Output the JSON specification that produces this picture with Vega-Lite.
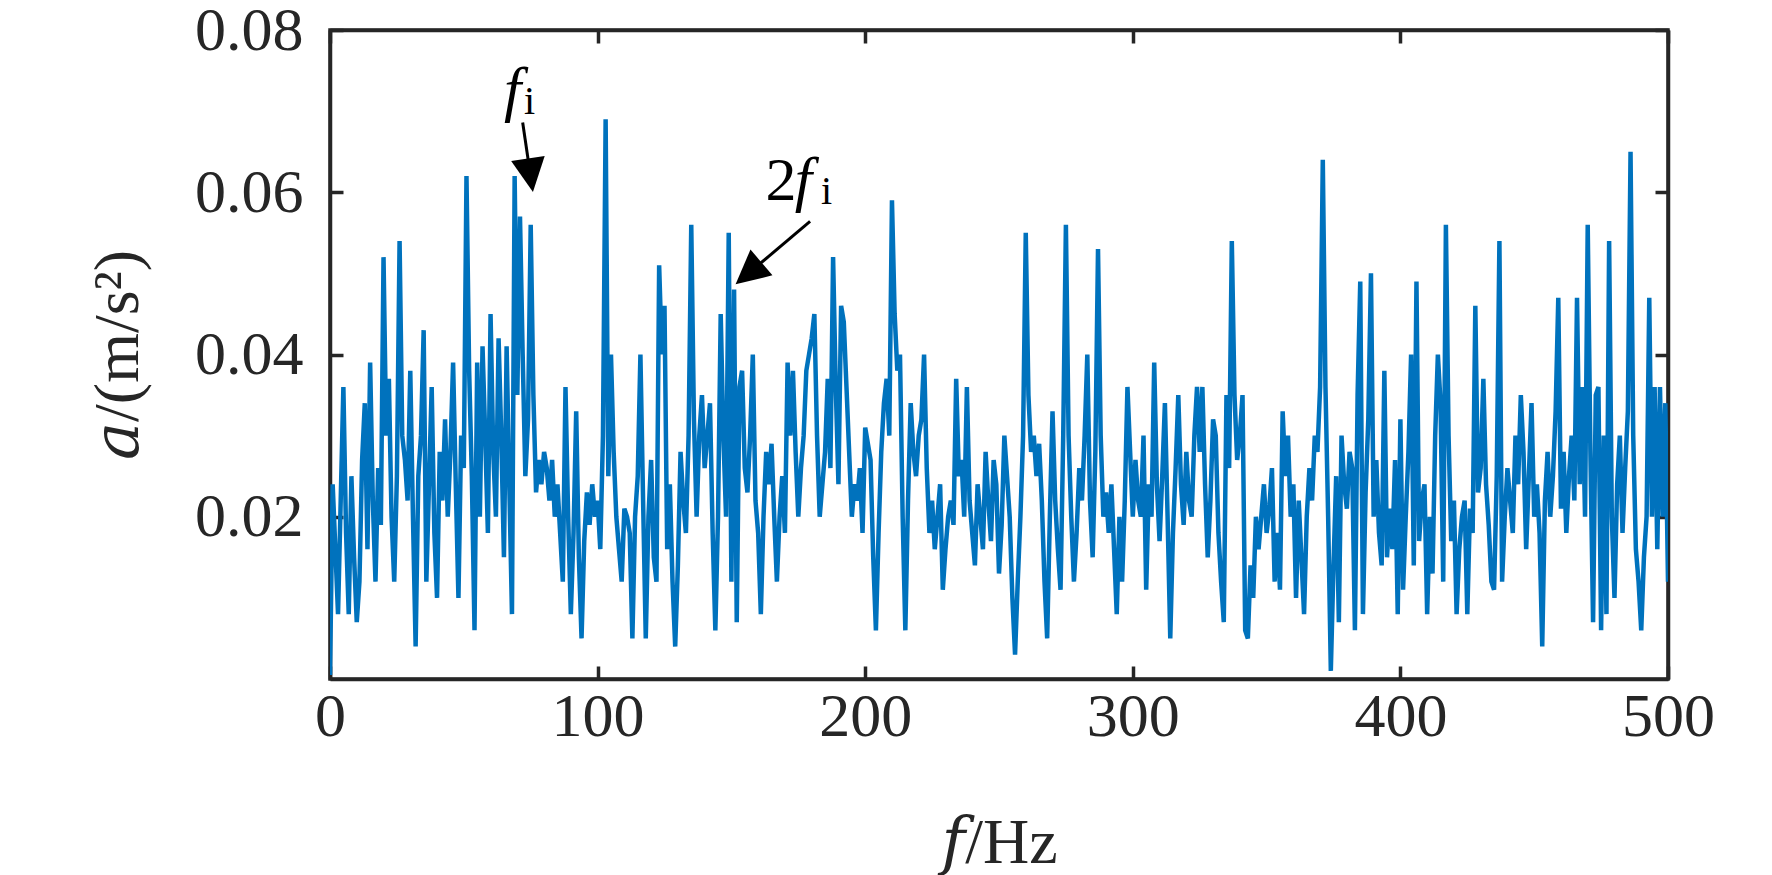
{
  "$schema": "https://vega.github.io/schema/vega-lite/v6.json",
  "description": "Acceleration spectrum with f_i and 2f_i markers",
  "autosize": {"type": "none"},
  "padding": {"left": 330, "top": 30, "right": 104, "bottom": 196},
  "width": 1338,
  "height": 649,
  "background": "white",
  "datasets": {
    "spectrum": [
      {"f":0,"a":0.0005},{"f":1,"a":0.024},{"f":2,"a":0.016},{"f":3,"a":0.008},{"f":4,"a":0.022},{"f":5,"a":0.036},{"f":6,"a":0.018},{"f":7,"a":0.008},{"f":8,"a":0.025},{"f":9,"a":0.015},
      {"f":10,"a":0.007},{"f":11,"a":0.012},{"f":12,"a":0.027},{"f":13,"a":0.034},{"f":14,"a":0.016},{"f":15,"a":0.039},{"f":16,"a":0.022},{"f":17,"a":0.012},{"f":18,"a":0.026},{"f":19,"a":0.019},
      {"f":20,"a":0.052},{"f":21,"a":0.030},{"f":22,"a":0.037},{"f":23,"a":0.020},{"f":24,"a":0.012},{"f":25,"a":0.025},{"f":26,"a":0.054},{"f":27,"a":0.030},{"f":28,"a":0.027},{"f":29,"a":0.022},
      {"f":30,"a":0.038},{"f":31,"a":0.020},{"f":32,"a":0.004},{"f":33,"a":0.025},{"f":34,"a":0.030},{"f":35,"a":0.043},{"f":36,"a":0.012},{"f":37,"a":0.024},{"f":38,"a":0.036},{"f":39,"a":0.018},
      {"f":40,"a":0.010},{"f":41,"a":0.028},{"f":42,"a":0.022},{"f":43,"a":0.032},{"f":44,"a":0.020},{"f":45,"a":0.028},{"f":46,"a":0.039},{"f":47,"a":0.024},{"f":48,"a":0.010},{"f":49,"a":0.030},
      {"f":50,"a":0.026},{"f":51,"a":0.062},{"f":52,"a":0.038},{"f":53,"a":0.025},{"f":54,"a":0.006},{"f":55,"a":0.039},{"f":56,"a":0.020},{"f":57,"a":0.041},{"f":58,"a":0.030},{"f":59,"a":0.018},
      {"f":60,"a":0.045},{"f":61,"a":0.028},{"f":62,"a":0.020},{"f":63,"a":0.042},{"f":64,"a":0.030},{"f":65,"a":0.015},{"f":66,"a":0.041},{"f":67,"a":0.024},{"f":68,"a":0.008},{"f":69,"a":0.062},
      {"f":70,"a":0.035},{"f":71,"a":0.057},{"f":72,"a":0.040},{"f":73,"a":0.025},{"f":74,"a":0.032},{"f":75,"a":0.056},{"f":76,"a":0.035},{"f":77,"a":0.023},{"f":78,"a":0.027},{"f":79,"a":0.024},
      {"f":80,"a":0.028},{"f":81,"a":0.026},{"f":82,"a":0.022},{"f":83,"a":0.027},{"f":84,"a":0.020},{"f":85,"a":0.024},{"f":86,"a":0.018},{"f":87,"a":0.012},{"f":88,"a":0.036},{"f":89,"a":0.020},
      {"f":90,"a":0.008},{"f":91,"a":0.018},{"f":92,"a":0.033},{"f":93,"a":0.015},{"f":94,"a":0.005},{"f":95,"a":0.017},{"f":96,"a":0.023},{"f":97,"a":0.019},{"f":98,"a":0.024},{"f":99,"a":0.020},
      {"f":100,"a":0.022},{"f":101,"a":0.016},{"f":102,"a":0.030},{"f":103,"a":0.069},{"f":104,"a":0.025},{"f":105,"a":0.040},{"f":106,"a":0.028},{"f":107,"a":0.020},{"f":108,"a":0.016},{"f":109,"a":0.012},
      {"f":110,"a":0.021},{"f":111,"a":0.020},{"f":112,"a":0.018},{"f":113,"a":0.005},{"f":114,"a":0.020},{"f":115,"a":0.025},{"f":116,"a":0.040},{"f":117,"a":0.022},{"f":118,"a":0.005},{"f":119,"a":0.020},
      {"f":120,"a":0.027},{"f":121,"a":0.015},{"f":122,"a":0.012},{"f":123,"a":0.051},{"f":124,"a":0.040},{"f":125,"a":0.046},{"f":126,"a":0.016},{"f":127,"a":0.024},{"f":128,"a":0.012},{"f":129,"a":0.004},
      {"f":130,"a":0.014},{"f":131,"a":0.028},{"f":132,"a":0.022},{"f":133,"a":0.018},{"f":134,"a":0.030},{"f":135,"a":0.056},{"f":136,"a":0.032},{"f":137,"a":0.020},{"f":138,"a":0.030},{"f":139,"a":0.035},
      {"f":140,"a":0.026},{"f":141,"a":0.030},{"f":142,"a":0.034},{"f":143,"a":0.018},{"f":144,"a":0.006},{"f":145,"a":0.020},{"f":146,"a":0.045},{"f":147,"a":0.030},{"f":148,"a":0.020},{"f":149,"a":0.055},
      {"f":150,"a":0.012},{"f":151,"a":0.048},{"f":152,"a":0.007},{"f":153,"a":0.036},{"f":154,"a":0.038},{"f":155,"a":0.026},{"f":156,"a":0.023},{"f":157,"a":0.030},{"f":158,"a":0.040},{"f":159,"a":0.022},
      {"f":160,"a":0.018},{"f":161,"a":0.008},{"f":162,"a":0.020},{"f":163,"a":0.028},{"f":164,"a":0.024},{"f":165,"a":0.029},{"f":166,"a":0.020},{"f":167,"a":0.012},{"f":168,"a":0.020},{"f":169,"a":0.025},
      {"f":170,"a":0.018},{"f":171,"a":0.039},{"f":172,"a":0.030},{"f":173,"a":0.038},{"f":174,"a":0.028},{"f":175,"a":0.020},{"f":176,"a":0.026},{"f":177,"a":0.030},{"f":178,"a":0.038},{"f":179,"a":0.040},
      {"f":180,"a":0.042},{"f":181,"a":0.045},{"f":182,"a":0.030},{"f":183,"a":0.020},{"f":184,"a":0.024},{"f":185,"a":0.028},{"f":186,"a":0.037},{"f":187,"a":0.026},{"f":188,"a":0.052},{"f":189,"a":0.036},
      {"f":190,"a":0.024},{"f":191,"a":0.046},{"f":192,"a":0.044},{"f":193,"a":0.036},{"f":194,"a":0.028},{"f":195,"a":0.020},{"f":196,"a":0.024},{"f":197,"a":0.022},{"f":198,"a":0.026},{"f":199,"a":0.018},
      {"f":200,"a":0.031},{"f":201,"a":0.029},{"f":202,"a":0.027},{"f":203,"a":0.015},{"f":204,"a":0.006},{"f":205,"a":0.018},{"f":206,"a":0.028},{"f":207,"a":0.034},{"f":208,"a":0.037},{"f":209,"a":0.030},
      {"f":210,"a":0.059},{"f":211,"a":0.045},{"f":212,"a":0.038},{"f":213,"a":0.040},{"f":214,"a":0.020},{"f":215,"a":0.006},{"f":216,"a":0.022},{"f":217,"a":0.034},{"f":218,"a":0.028},{"f":219,"a":0.025},
      {"f":220,"a":0.030},{"f":221,"a":0.032},{"f":222,"a":0.040},{"f":223,"a":0.026},{"f":224,"a":0.018},{"f":225,"a":0.022},{"f":226,"a":0.016},{"f":227,"a":0.020},{"f":228,"a":0.024},{"f":229,"a":0.011},
      {"f":230,"a":0.016},{"f":231,"a":0.020},{"f":232,"a":0.022},{"f":233,"a":0.019},{"f":234,"a":0.037},{"f":235,"a":0.025},{"f":236,"a":0.027},{"f":237,"a":0.020},{"f":238,"a":0.036},{"f":239,"a":0.022},
      {"f":240,"a":0.018},{"f":241,"a":0.014},{"f":242,"a":0.024},{"f":243,"a":0.020},{"f":244,"a":0.016},{"f":245,"a":0.028},{"f":246,"a":0.022},{"f":247,"a":0.017},{"f":248,"a":0.027},{"f":249,"a":0.024},
      {"f":250,"a":0.013},{"f":251,"a":0.019},{"f":252,"a":0.030},{"f":253,"a":0.025},{"f":254,"a":0.020},{"f":255,"a":0.010},{"f":256,"a":0.003},{"f":257,"a":0.012},{"f":258,"a":0.020},{"f":259,"a":0.030},
      {"f":260,"a":0.055},{"f":261,"a":0.035},{"f":262,"a":0.028},{"f":263,"a":0.030},{"f":264,"a":0.025},{"f":265,"a":0.029},{"f":266,"a":0.022},{"f":267,"a":0.012},{"f":268,"a":0.005},{"f":269,"a":0.020},
      {"f":270,"a":0.033},{"f":271,"a":0.022},{"f":272,"a":0.016},{"f":273,"a":0.011},{"f":274,"a":0.030},{"f":275,"a":0.056},{"f":276,"a":0.030},{"f":277,"a":0.020},{"f":278,"a":0.012},{"f":279,"a":0.018},
      {"f":280,"a":0.026},{"f":281,"a":0.022},{"f":282,"a":0.030},{"f":283,"a":0.040},{"f":284,"a":0.022},{"f":285,"a":0.015},{"f":286,"a":0.028},{"f":287,"a":0.053},{"f":288,"a":0.030},{"f":289,"a":0.020},
      {"f":290,"a":0.023},{"f":291,"a":0.018},{"f":292,"a":0.024},{"f":293,"a":0.016},{"f":294,"a":0.008},{"f":295,"a":0.020},{"f":296,"a":0.012},{"f":297,"a":0.022},{"f":298,"a":0.036},{"f":299,"a":0.028},
      {"f":300,"a":0.020},{"f":301,"a":0.027},{"f":302,"a":0.022},{"f":303,"a":0.020},{"f":304,"a":0.030},{"f":305,"a":0.011},{"f":306,"a":0.024},{"f":307,"a":0.020},{"f":308,"a":0.039},{"f":309,"a":0.024},
      {"f":310,"a":0.017},{"f":311,"a":0.025},{"f":312,"a":0.034},{"f":313,"a":0.020},{"f":314,"a":0.005},{"f":315,"a":0.018},{"f":316,"a":0.026},{"f":317,"a":0.035},{"f":318,"a":0.024},{"f":319,"a":0.019},
      {"f":320,"a":0.028},{"f":321,"a":0.022},{"f":322,"a":0.020},{"f":323,"a":0.030},{"f":324,"a":0.036},{"f":325,"a":0.028},{"f":326,"a":0.036},{"f":327,"a":0.024},{"f":328,"a":0.015},{"f":329,"a":0.022},
      {"f":330,"a":0.032},{"f":331,"a":0.030},{"f":332,"a":0.018},{"f":333,"a":0.012},{"f":334,"a":0.007},{"f":335,"a":0.035},{"f":336,"a":0.026},{"f":337,"a":0.054},{"f":338,"a":0.035},{"f":339,"a":0.027},
      {"f":340,"a":0.030},{"f":341,"a":0.035},{"f":342,"a":0.006},{"f":343,"a":0.005},{"f":344,"a":0.014},{"f":345,"a":0.010},{"f":346,"a":0.020},{"f":347,"a":0.016},{"f":348,"a":0.020},{"f":349,"a":0.024},
      {"f":350,"a":0.018},{"f":351,"a":0.021},{"f":352,"a":0.026},{"f":353,"a":0.012},{"f":354,"a":0.018},{"f":355,"a":0.011},{"f":356,"a":0.033},{"f":357,"a":0.025},{"f":358,"a":0.030},{"f":359,"a":0.020},
      {"f":360,"a":0.024},{"f":361,"a":0.010},{"f":362,"a":0.022},{"f":363,"a":0.015},{"f":364,"a":0.008},{"f":365,"a":0.020},{"f":366,"a":0.026},{"f":367,"a":0.022},{"f":368,"a":0.030},{"f":369,"a":0.028},
      {"f":370,"a":0.036},{"f":371,"a":0.064},{"f":372,"a":0.036},{"f":373,"a":0.020},{"f":374,"a":0.001},{"f":375,"a":0.014},{"f":376,"a":0.025},{"f":377,"a":0.007},{"f":378,"a":0.030},{"f":379,"a":0.024},
      {"f":380,"a":0.021},{"f":381,"a":0.028},{"f":382,"a":0.026},{"f":383,"a":0.006},{"f":384,"a":0.035},{"f":385,"a":0.049},{"f":386,"a":0.008},{"f":387,"a":0.023},{"f":388,"a":0.032},{"f":389,"a":0.050},
      {"f":390,"a":0.020},{"f":391,"a":0.027},{"f":392,"a":0.018},{"f":393,"a":0.014},{"f":394,"a":0.038},{"f":395,"a":0.015},{"f":396,"a":0.021},{"f":397,"a":0.016},{"f":398,"a":0.027},{"f":399,"a":0.008},
      {"f":400,"a":0.032},{"f":401,"a":0.011},{"f":402,"a":0.020},{"f":403,"a":0.028},{"f":404,"a":0.040},{"f":405,"a":0.014},{"f":406,"a":0.049},{"f":407,"a":0.017},{"f":408,"a":0.022},{"f":409,"a":0.024},
      {"f":410,"a":0.008},{"f":411,"a":0.020},{"f":412,"a":0.013},{"f":413,"a":0.030},{"f":414,"a":0.040},{"f":415,"a":0.034},{"f":416,"a":0.012},{"f":417,"a":0.056},{"f":418,"a":0.030},{"f":419,"a":0.017},
      {"f":420,"a":0.022},{"f":421,"a":0.008},{"f":422,"a":0.016},{"f":423,"a":0.020},{"f":424,"a":0.022},{"f":425,"a":0.008},{"f":426,"a":0.021},{"f":427,"a":0.018},{"f":428,"a":0.046},{"f":429,"a":0.023},
      {"f":430,"a":0.026},{"f":431,"a":0.037},{"f":432,"a":0.024},{"f":433,"a":0.019},{"f":434,"a":0.012},{"f":435,"a":0.011},{"f":436,"a":0.025},{"f":437,"a":0.054},{"f":438,"a":0.012},{"f":439,"a":0.020},
      {"f":440,"a":0.026},{"f":441,"a":0.022},{"f":442,"a":0.018},{"f":443,"a":0.030},{"f":444,"a":0.024},{"f":445,"a":0.035},{"f":446,"a":0.028},{"f":447,"a":0.016},{"f":448,"a":0.025},{"f":449,"a":0.034},
      {"f":450,"a":0.020},{"f":451,"a":0.024},{"f":452,"a":0.018},{"f":453,"a":0.004},{"f":454,"a":0.022},{"f":455,"a":0.028},{"f":456,"a":0.020},{"f":457,"a":0.025},{"f":458,"a":0.033},{"f":459,"a":0.047},
      {"f":460,"a":0.021},{"f":461,"a":0.028},{"f":462,"a":0.018},{"f":463,"a":0.025},{"f":464,"a":0.030},{"f":465,"a":0.022},{"f":466,"a":0.047},{"f":467,"a":0.024},{"f":468,"a":0.036},{"f":469,"a":0.020},
      {"f":470,"a":0.056},{"f":471,"a":0.028},{"f":472,"a":0.007},{"f":473,"a":0.035},{"f":474,"a":0.036},{"f":475,"a":0.006},{"f":476,"a":0.030},{"f":477,"a":0.008},{"f":478,"a":0.054},{"f":479,"a":0.020},
      {"f":480,"a":0.010},{"f":481,"a":0.024},{"f":482,"a":0.030},{"f":483,"a":0.018},{"f":484,"a":0.026},{"f":485,"a":0.033},{"f":486,"a":0.065},{"f":487,"a":0.030},{"f":488,"a":0.016},{"f":489,"a":0.012},
      {"f":490,"a":0.006},{"f":491,"a":0.015},{"f":492,"a":0.020},{"f":493,"a":0.047},{"f":494,"a":0.020},{"f":495,"a":0.036},{"f":496,"a":0.016},{"f":497,"a":0.036},{"f":498,"a":0.020},{"f":499,"a":0.034},
      {"f":500,"a":0.012}
    ],
    "arrows": [
      {"id": "fi", "x": 72.0, "y": 0.0686, "x2": 74.9, "y2": 0.0621},
      {"id": "2fi", "x": 179.4, "y": 0.0564, "x2": 156.4, "y2": 0.0500}
    ],
    "notes": [
      {"x": 68.2, "y": 0.0725, "t": "f", "kind": "italic"},
      {"x": 74.6, "y": 0.0711, "t": "i", "kind": "sub"},
      {"x": 168.5, "y": 0.0614, "t": "2", "kind": "upright"},
      {"x": 176.9, "y": 0.0614, "t": "f", "kind": "italic"},
      {"x": 185.6, "y": 0.0600, "t": "i", "kind": "sub"}
    ]
  },
  "layer": [
    {
      "data": {"name": "spectrum"},
      "mark": {"type": "line", "color": "#0072BD", "strokeWidth": 4.5, "clip": true},
      "encoding": {
        "x": {
          "field": "f", "type": "quantitative",
          "scale": {"domain": [0, 500], "nice": false, "zero": false},
          "axis": {"orient": "bottom", "title": "𝑓/Hz", "values": [0, 100, 200, 300, 400, 500], "format": "d", "labelPadding": 20, "titlePadding": 64}
        },
        "y": {
          "field": "a", "type": "quantitative",
          "scale": {"domain": [0, 0.08], "nice": false},
          "axis": {"orient": "left", "title": "𝑎/(m/s²)", "values": [0.02, 0.04, 0.06, 0.08], "format": ".2f", "labelPadding": 40, "titlePadding": 44}
        }
      }
    },
    {
      "data": {"name": "arrows"},
      "mark": {"type": "rule", "color": "black", "strokeWidth": 3},
      "encoding": {
        "x": {"field": "x", "type": "quantitative", "axis": {"orient": "top", "labels": false, "title": null, "values": [0, 100, 200, 300, 400, 500]}},
        "y": {"field": "y", "type": "quantitative", "axis": {"orient": "right", "labels": false, "title": null, "values": [0.02, 0.04, 0.06, 0.08]}},
        "x2": {"field": "x2"},
        "y2": {"field": "y2"}
      }
    },
    {
      "data": {"name": "arrows"},
      "transform": [{"filter": "datum.id === 'fi'"}],
      "mark": {"type": "point", "shape": "M0,-1L1,1L-1,1Z", "filled": true, "color": "black", "opacity": 1, "size": 1150, "angle": 171.5},
      "encoding": {
        "x": {"field": "x2", "type": "quantitative", "axis": null},
        "y": {"field": "y2", "type": "quantitative", "axis": null}
      }
    },
    {
      "data": {"name": "arrows"},
      "transform": [{"filter": "datum.id === '2fi'"}],
      "mark": {"type": "point", "shape": "M0,-1L1,1L-1,1Z", "filled": true, "color": "black", "opacity": 1, "size": 1150, "angle": 229.7},
      "encoding": {
        "x": {"field": "x2", "type": "quantitative", "axis": null},
        "y": {"field": "y2", "type": "quantitative", "axis": null}
      }
    },
    {
      "data": {"name": "notes"},
      "transform": [{"filter": "datum.kind === 'italic'"}],
      "mark": {"type": "text", "font": "Liberation Serif", "fontSize": 62, "fontStyle": "italic", "color": "black", "baseline": "middle", "align": "center"},
      "encoding": {
        "x": {"field": "x", "type": "quantitative", "axis": null},
        "y": {"field": "y", "type": "quantitative", "axis": null},
        "text": {"field": "t"}
      }
    },
    {
      "data": {"name": "notes"},
      "transform": [{"filter": "datum.kind === 'upright'"}],
      "mark": {"type": "text", "font": "Liberation Serif", "fontSize": 62, "color": "black", "baseline": "middle", "align": "center"},
      "encoding": {
        "x": {"field": "x", "type": "quantitative", "axis": null},
        "y": {"field": "y", "type": "quantitative", "axis": null},
        "text": {"field": "t"}
      }
    },
    {
      "data": {"name": "notes"},
      "transform": [{"filter": "datum.kind === 'sub'"}],
      "mark": {"type": "text", "font": "Liberation Serif", "fontSize": 40, "color": "black", "baseline": "middle", "align": "center"},
      "encoding": {
        "x": {"field": "x", "type": "quantitative", "axis": null},
        "y": {"field": "y", "type": "quantitative", "axis": null},
        "text": {"field": "t"}
      }
    }
  ],
  "resolve": {"axis": {"x": "independent", "y": "independent"}},
  "config": {
    "view": {"stroke": "#262626", "strokeWidth": 3.5},
    "axis": {
      "grid": false,
      "domainColor": "#262626",
      "domainWidth": 3.5,
      "tickColor": "#262626",
      "tickWidth": 3.5,
      "tickSize": -13,
      "labelFont": "Liberation Serif",
      "labelFontSize": 62,
      "labelColor": "#262626",
      "labelFlush": false,
      "labelOverlap": false,
      "titleFont": "Liberation Serif, DejaVu Serif",
      "titleFontSize": 64,
      "titleFontWeight": "normal",
      "titleColor": "#262626"
    }
  }
}
